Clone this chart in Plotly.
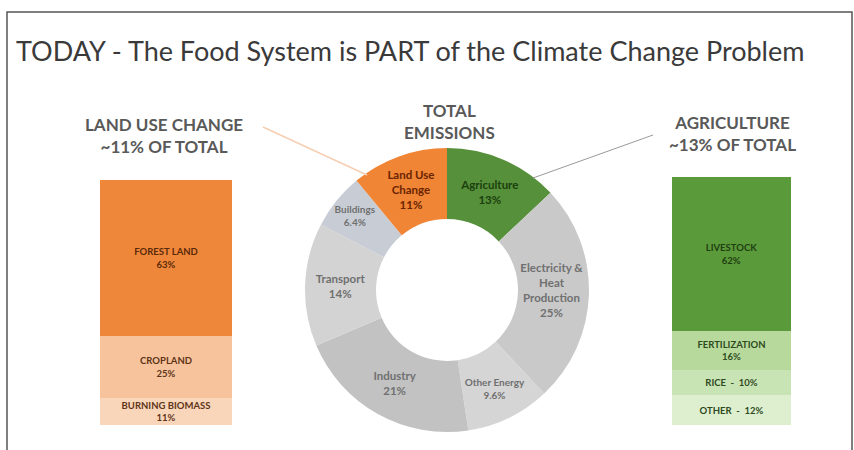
import plotly.graph_objects as go

W, H = 854, 450

# total emissions donut (clockwise from 12 o'clock)
sectors = ["Agriculture", "Electricity &<br>Heat<br>Production", "Other Energy", "Industry",
           "Transport", "Buildings", "Land Use<br>Change"]
sector_labels = ["13%", "25%", "9.6%", "21%", "14%", "6.4%", "11%"]
sector_values = [13, 25, 9.6, 21, 14, 6.4, 11]
sector_colors = ["#56903A", "#C9C9C9", "#D5D5D5", "#C2C2C2", "#D3D3D3", "#C8CDD5", "#EF8535"]
sector_text_colors = ["#1C3F0E", "#707070", "#707070", "#707070", "#707070", "#707070", "#6B2400"]

# land use change breakdown (bottom to top)
luc_names = ["BURNING BIOMASS", "CROPLAND", "FOREST LAND"]
luc_values = [11, 25, 63]
luc_colors = ["#F9D6BA", "#F6C39C", "#EF873A"]
luc_text_colors = ["#5E3418", "#5E3418", "#5A2A0A"]

# agriculture breakdown (bottom to top)
agr_names = ["OTHER", "RICE", "FERTILIZATION", "LIVESTOCK"]
agr_values = [12, 10, 16, 62]
agr_colors = ["#DDEFCF", "#C9E4B4", "#B7DA9C", "#5B9A3B"]
agr_text = ["OTHER  -  12%", "RICE  -  10%", "FERTILIZATION<br>16%", "LIVESTOCK<br>62%"]
agr_text_colors = ["#2E4A1E", "#2E4A1E", "#2E4A1E", "#1E4010"]

FONT = "Lato"


def px(x):
    return x / W


def py(y):
    return 1 - y / H


fig = go.Figure()

fig.add_trace(go.Pie(
    labels=sectors,
    values=sector_values,
    text=[f"{s}<br>{v}" for s, v in zip(sectors, sector_labels)],
    textinfo="text",
    textposition="inside",
    insidetextorientation="horizontal",
    textfont=dict(family=FONT, size=11.5, color=sector_text_colors, weight="bold"),
    marker=dict(colors=sector_colors, line=dict(width=0)),
    hole=0.5,
    sort=False,
    direction="clockwise",
    rotation=0,
    domain=dict(x=[px(305), px(589)], y=[py(432), py(148)]),
    showlegend=False,
    hoverinfo="label+value",
))

luc_text = [f"{n}<br>{v}%" for n, v in zip(luc_names, luc_values)]
for n, v, c, t, tc in zip(luc_names, luc_values, luc_colors, luc_text, luc_text_colors):
    fig.add_trace(go.Bar(
        x=[""], y=[v], name=n, marker=dict(color=c, line=dict(width=0)),
        text=[t], textposition="inside", insidetextanchor="middle", constraintext="none",
        textfont=dict(family=FONT, size=9.5, color=tc, weight="bold"),
        xaxis="x", yaxis="y", showlegend=False,
    ))

for n, v, c, t, tc in zip(agr_names, agr_values, agr_colors, agr_text, agr_text_colors):
    fig.add_trace(go.Bar(
        x=[""], y=[v], name=n, marker=dict(color=c, line=dict(width=0)),
        text=[t], textposition="inside", insidetextanchor="middle", constraintext="none",
        textfont=dict(family=FONT, size=9.5, color=tc, weight="bold"),
        xaxis="x2", yaxis="y2", showlegend=False,
    ))

hidden = dict(visible=False, fixedrange=True)
header_font = dict(family=FONT, size=17, color="#595959", weight="bold")

annotations = [
    dict(x=px(14), y=py(50), xref="paper", yref="paper", xanchor="left", yanchor="middle",
         text="TODAY - The Food System is PART of the Climate Change Problem", showarrow=False,
         font=dict(family=FONT, size=27, color="#3A3A3A")),
    dict(x=px(164), y=py(135), xref="paper", yref="paper", xanchor="center", yanchor="middle",
         showarrow=False, text="LAND USE CHANGE<br>~11% OF TOTAL", font=header_font),
    dict(x=px(449), y=py(121), xref="paper", yref="paper", xanchor="center", yanchor="middle",
         showarrow=False, text="TOTAL<br>EMISSIONS", font=header_font),
    dict(x=px(732), y=py(133), xref="paper", yref="paper", xanchor="center", yanchor="middle",
         showarrow=False, text="AGRICULTURE<br>~13% OF TOTAL", font=header_font),
]

shapes = [
    dict(type="rect", xref="paper", yref="paper", x0=px(7), x1=px(852), y0=py(470), y1=py(12),
         line=dict(color="#555555", width=1.5), layer="below"),
    dict(type="line", xref="paper", yref="paper", x0=px(263), y0=py(127), x1=px(367), y1=py(175),
         line=dict(color="#F6CFB2", width=1.5)),
    dict(type="line", xref="paper", yref="paper", x0=px(533), y0=py(178), x1=px(653), y1=py(135),
         line=dict(color="#9A9A9A", width=1)),
]

fig.update_layout(
    width=W, height=H,
    margin=dict(l=0, r=0, t=0, b=0),
    paper_bgcolor="white", plot_bgcolor="white",
    barmode="stack", bargap=0,
    xaxis=dict(domain=[px(100), px(232)], range=[-0.5, 0.5], **hidden),
    yaxis=dict(domain=[py(425), py(180)], range=[0, 99], **hidden),
    xaxis2=dict(domain=[px(672), px(791)], range=[-0.5, 0.5], anchor="y2", **hidden),
    yaxis2=dict(domain=[py(425), py(177)], range=[0, 100], anchor="x2", **hidden),
    annotations=annotations,
    shapes=shapes,
)

fig.write_html("out.html", config=dict(displayModeBar=False),
               post_script="document.body.style.margin='0';document.body.style.overflow='hidden';")
